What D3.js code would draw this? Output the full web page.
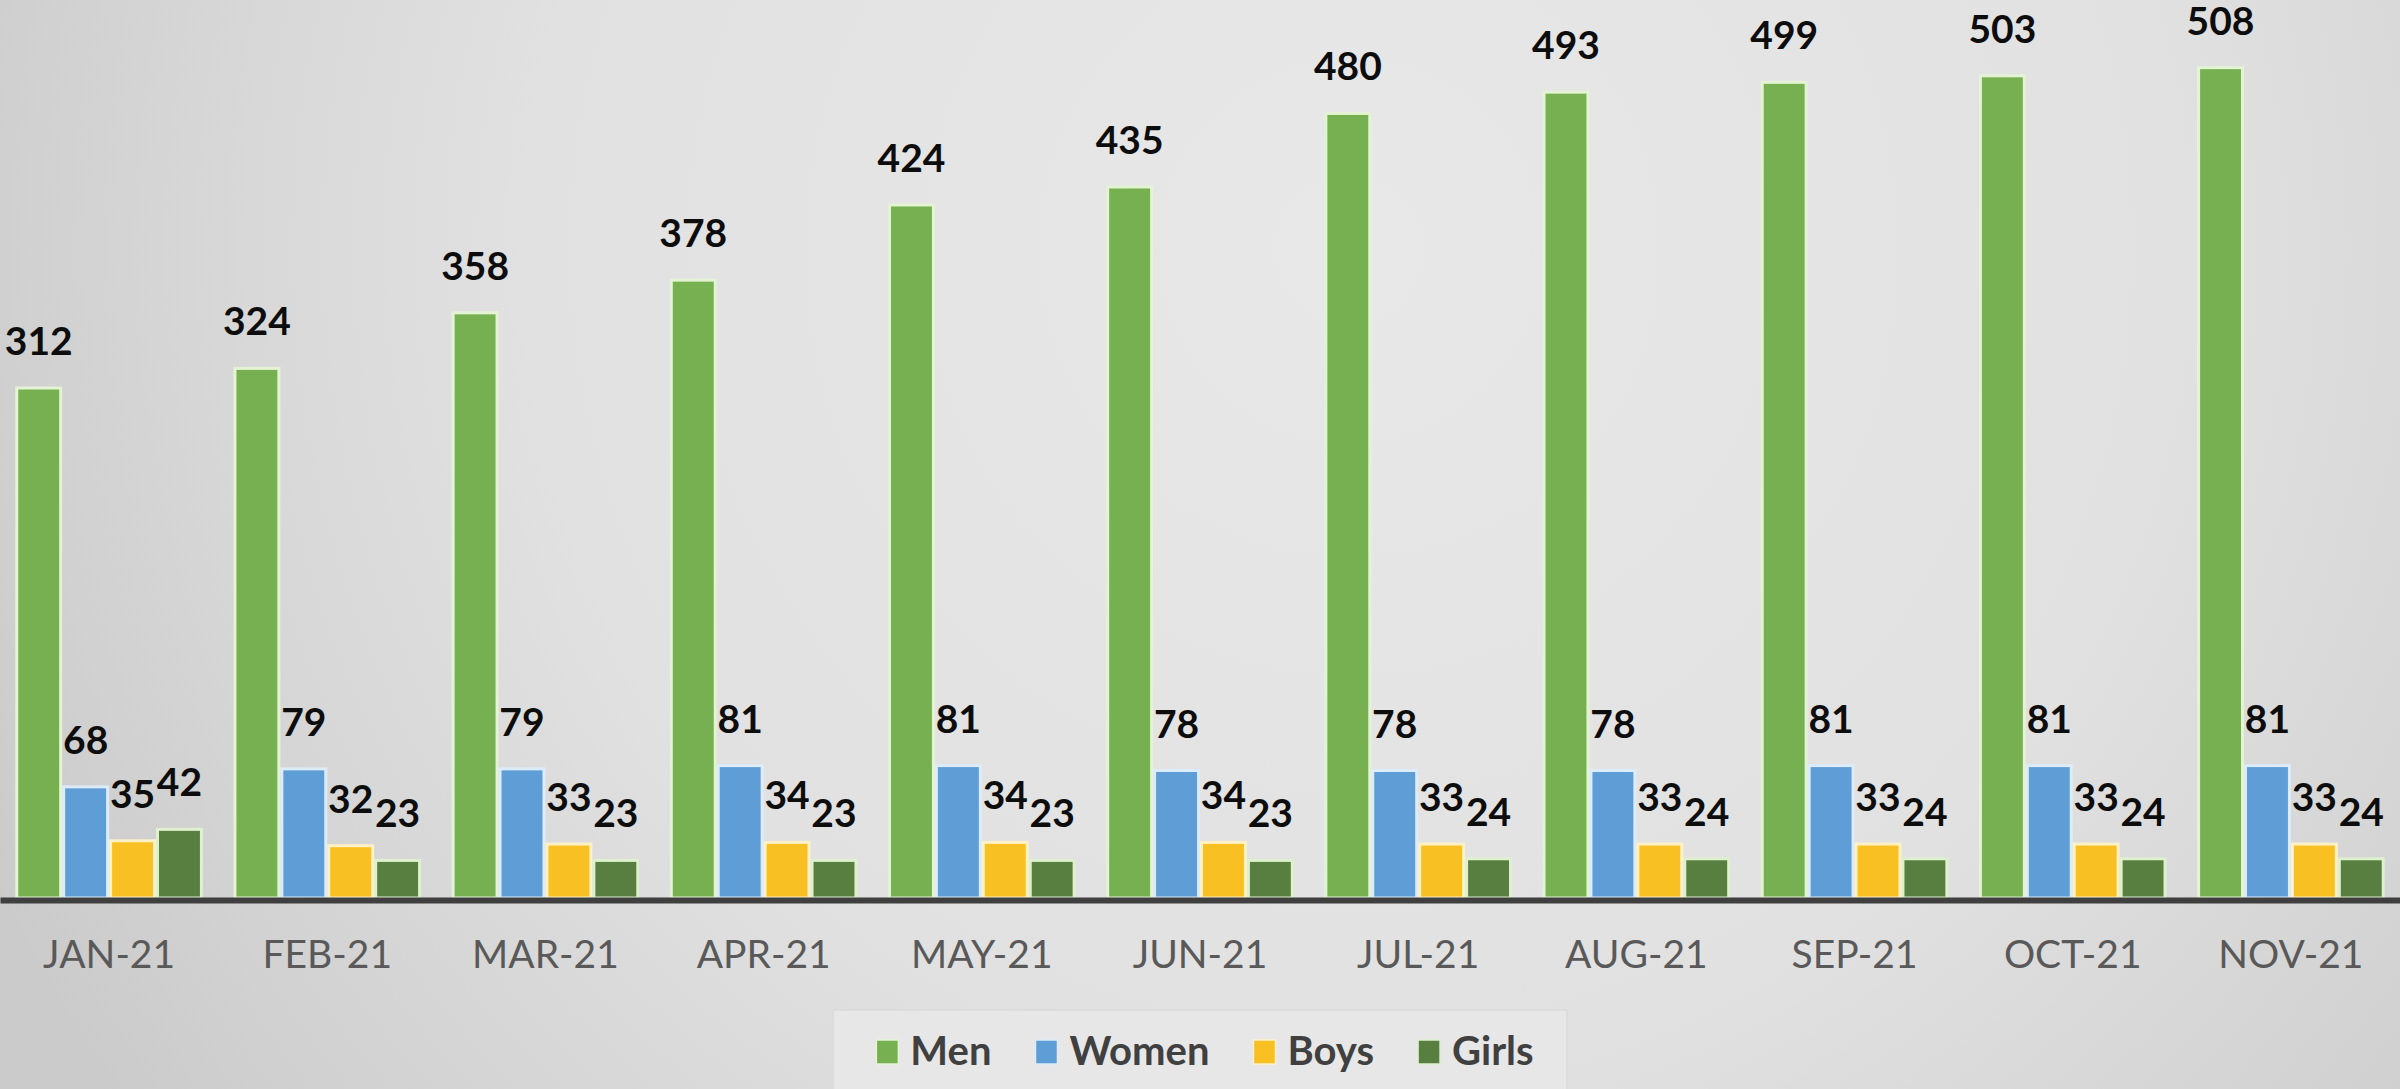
<!DOCTYPE html>
<html>
<head>
<meta charset="utf-8">
<script src="https://cdn.jsdelivr.net/npm/d3@7"></script>
<style>
  html, body { margin: 0; padding: 0; overflow: hidden; }
  svg { display: block; }
</style>
</head>
<body>
<svg id="chart" width="2400" height="1089"></svg>
<script>
// Monthly counts by group
const months = ["JAN-21","FEB-21","MAR-21","APR-21","MAY-21","JUN-21","JUL-21","AUG-21","SEP-21","OCT-21","NOV-21"];
const men    = [312, 324, 358, 378, 424, 435, 480, 493, 499, 503, 508];
const women  = [68, 79, 79, 81, 81, 78, 78, 78, 81, 81, 81];
const boys   = [35, 32, 33, 34, 34, 34, 33, 33, 33, 33, 33];
const girls  = [42, 23, 23, 23, 23, 23, 24, 24, 24, 24, 24];
const seriesNames = ["Men", "Women", "Boys", "Girls"];

const seriesValues = [men, women, boys, girls];
const fills   = ["#76b051", "#5e9dd6", "#f9c023", "#587f40"];
const glows   = ["#e4f3d4", "#dcecfa", "#fff1c6", "#dff0cf"];

const W = 2400, H = 1089;
const svg = d3.select("#chart");

// Background: soft radial grey
const defs = svg.append("defs");
const bg = defs.append("radialGradient")
  .attr("id", "bg").attr("gradientUnits", "userSpaceOnUse")
  .attr("cx", 1350).attr("cy", 250).attr("r", 1500);
bg.append("stop").attr("offset", 0).attr("stop-color", "#e8e8e8");
bg.append("stop").attr("offset", 0.55).attr("stop-color", "#e1e1e1");
bg.append("stop").attr("offset", 1).attr("stop-color", "#cbcbcb");
svg.append("rect").attr("width", W).attr("height", H).attr("fill", "url(#bg)");

const baseY = 898;
const x0 = d3.scaleBand().domain(months).range([0, W]).paddingInner(0.14).paddingOuter(0.07);
const x1 = d3.scaleBand().domain(seriesNames).range([0, x0.bandwidth()]);
const y = d3.scaleLinear().domain([0, 550]).range([baseY, -1]);

const rows = months.map((m, i) => ({
  month: m,
  items: seriesNames.map((s, k) => ({ series: s, k, value: seriesValues[k][i] }))
}));

const groups = svg.append("g").selectAll("g.month")
  .data(rows).join("g")
  .attr("class", "month")
  .attr("transform", d => `translate(${x0(d.month)},0)`);

groups.selectAll("rect")
  .data(d => d.items).join("rect")
  .attr("x", d => x1(d.series) + 1.5)
  .attr("width", x1.bandwidth() - 3)
  .attr("y", d => y(d.value))
  .attr("height", d => baseY - y(d.value))
  .attr("fill", d => fills[d.k])
  .attr("stroke", d => glows[d.k])
  .attr("stroke-width", 3);

groups.selectAll("text.val")
  .data(d => d.items).join("text")
  .attr("class", "val")
  .attr("x", d => x1(d.series) + x1.bandwidth() / 2)
  .attr("y", d => y(d.value) - 33)
  .attr("text-anchor", "middle")
  .attr("font-family", "Lato, 'Open Sans', sans-serif")
  .attr("font-weight", 700)
  .attr("font-size", 39)
  .attr("fill", "#0d0d0d")
  .text(d => d.value);

// Category axis
const axis = svg.append("g")
  .attr("transform", `translate(0,${baseY + 2})`)
  .call(d3.axisBottom(x0).tickSize(0).tickSizeOuter(0));
axis.select(".domain").attr("stroke", "#3f3f3f").attr("stroke-width", 6);
axis.selectAll(".tick text")
  .attr("y", 68).attr("dy", 0)
  .attr("font-family", "Lato, 'Open Sans', sans-serif")
  .attr("font-size", 39)
  .attr("fill", "#595959");

// Legend
const lg = svg.append("g");
lg.append("rect")
  .attr("x", 833).attr("y", 1010).attr("width", 734).attr("height", 90)
  .attr("fill", "#e7e7e7").attr("stroke", "#dadada").attr("stroke-width", 1.5);

const legendItems = lg.selectAll("g.item").data(seriesNames).join("g").attr("class", "item");
legendItems.append("rect")
  .attr("width", 22).attr("height", 24).attr("y", 1040)
  .attr("fill", (d, i) => fills[i])
  .attr("stroke", (d, i) => glows[i]).attr("stroke-width", 1.5);
legendItems.append("text")
  .attr("y", 1065)
  .attr("font-family", "Lato, 'Open Sans', sans-serif")
  .attr("font-weight", 700)
  .attr("font-size", 40)
  .attr("fill", "#404040")
  .text(d => d);

// Lay out legend entries in a row, centred in the box
const sq = 22, gapIn = 12, gapOut = 44;
const widths = legendItems.nodes().map(n => n.querySelector("text").getComputedTextLength());
const total = d3.sum(widths) + seriesNames.length * (sq + gapIn) + (seriesNames.length - 1) * gapOut;
let cursor = 1205 - total / 2;
legendItems.each(function(d, i) {
  const g = d3.select(this);
  g.select("rect").attr("x", cursor);
  g.select("text").attr("x", cursor + sq + gapIn);
  cursor += sq + gapIn + widths[i] + gapOut;
});
</script>
</body>
</html>
